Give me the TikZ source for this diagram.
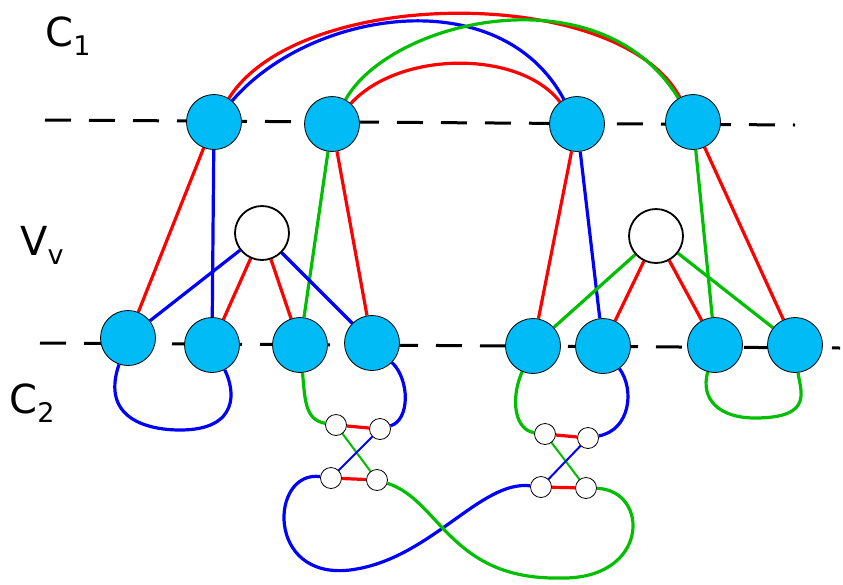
\documentclass[tikz,border=0pt]{standalone}
\usepackage{fontspec}
\setmainfont{DejaVu Sans}
\usetikzlibrary{backgrounds}
\definecolor{vcyan}{RGB}{0,187,245}
\newcommand{\sub}[1]{\raisebox{-9pt}{\fontsize{27}{30}\selectfont #1}}
\begin{document}
\begin{tikzpicture}[x=1pt,y=-1pt,
  vert/.style={circle, draw=black, thick, fill=vcyan, minimum size=55pt, inner sep=0pt},
  hole/.style={circle, draw=black, line width=1.8pt, fill=white, minimum size=54pt, inner sep=0pt},
  tiny/.style={circle, draw=black, thick, fill=white, minimum size=21pt, inner sep=0pt},
  ed/.style={line width=3.2pt},
  thin ed/.style={line width=2pt},
  lab/.style={font=\fontsize{40}{44}\selectfont}]
\useasboundingbox (0,0) rectangle (843,584);
  % labels
  \node[lab] (c1) at (68,36) {C\sub{1}};
  \node[lab] (vv) at (42,245) {V\sub{v}};
  \node[lab] (c2) at (32,403) {C\sub{2}};

  % top row
  \node[vert] (a1) at (214,122) {};
  \node[vert] (a2) at (332,124) {};
  \node[vert] (a3) at (577,124) {};
  \node[vert] (a4) at (693,122) {};
  % bottom row
  \node[vert] (b1) at (128,338) {};
  \node[vert] (b2) at (212,345) {};
  \node[vert] (b3) at (300,345) {};
  \node[vert] (b4) at (372,343) {};
  \node[vert] (b5) at (533,346) {};
  \node[vert] (b6) at (603,346) {};
  \node[vert] (b7) at (715,345) {};
  \node[vert] (b8) at (795,345) {};
  % holes
  \node[hole] (w1) at (262,233) {};
  \node[hole] (w2) at (656,236) {};
  % small gadgets
  \node[tiny] (s1) at (336,425) {};
  \node[tiny] (s2) at (380,429) {};
  \node[tiny] (s3) at (331,478) {};
  \node[tiny] (s4) at (377,480) {};
  \node[tiny] (s5) at (545,434) {};
  \node[tiny] (s6) at (588,438) {};
  \node[tiny] (s7) at (541,487) {};
  \node[tiny] (s8) at (586,488) {};

  \begin{pgfonlayer}{background}
  % dashed lines
  \draw[line width=3pt, dash pattern=on 26pt off 18pt] (45,120) -- (795,125);
  \draw[line width=3pt, dash pattern=on 26pt off 18pt] (40,343) -- (840,348);
  % arcs above
  \draw[ed, red] (a1) .. controls (300,-15) and (620,-15) .. (a4);
  \draw[ed, blue] (a1) .. controls (310,10) and (500,-20) .. (a3);
  \draw[ed, green!75!black] (a2) .. controls (390,20) and (600,-30) .. (a4);
  \draw[ed, red] (a2) .. controls (400,50) and (520,50) .. (a3);
  % spokes
  \draw[ed, red] (a1) -- (b1);
  \draw[ed, blue] (a1) -- (b2);
  \draw[ed, green!75!black] (a2) -- (b3);
  \draw[ed, red] (a2) -- (b4);
  \draw[ed, red] (a3) -- (b5);
  \draw[ed, blue] (a3) -- (b6);
  \draw[ed, green!75!black] (a4) -- (b7);
  \draw[ed, red] (a4) -- (b8);
  \draw[ed, blue] (w1) -- (b1);
  \draw[ed, red] (w1) -- (b2);
  \draw[ed, red] (w1) -- (b3);
  \draw[ed, blue] (w1) -- (b4);
  \draw[ed, green!75!black] (w2) -- (b5);
  \draw[ed, red] (w2) -- (b6);
  \draw[ed, red] (w2) -- (b7);
  \draw[ed, green!75!black] (w2) -- (b8);
  % loops
  \draw[ed, blue] (b1) .. controls (100,420) and (150,430) .. (180,430) .. controls (240,430) and (235,390) .. (b2);
  \draw[ed, green!75!black] (b7) .. controls (700,400) and (720,418) .. (755,418) .. controls (815,418) and (800,390) .. (b8);
  % gadgets
  \draw[ed, green!75!black] (b3) .. controls (305,400) and (305,420) .. (s1);
  \draw[ed, blue] (b4) .. controls (410,380) and (410,420) .. (s2);
  \draw[ed, green!75!black] (b5) .. controls (510,400) and (515,430) .. (s5);
  \draw[ed, blue] (b6) .. controls (635,390) and (630,430) .. (s6);
  \draw[ed, red] (s1) -- (s2);
  \draw[ed, red] (s3) -- (s4);
  \draw[ed, red] (s5) -- (s6);
  \draw[ed, red] (s7) -- (s8);
  \draw[thin ed, green!75!black] (s1.center) -- (s4.center);
  \draw[thin ed, blue] (s2.center) -- (s3.center);
  \draw[thin ed, green!75!black] (s5.center) -- (s8.center);
  \draw[thin ed, blue] (s6.center) -- (s7.center);
  \draw[ed, blue] (s3) .. controls (270,470) and (265,580) .. (350,570) .. controls (430,560) and (480,480) .. (s7);
  \draw[ed, green!75!black] (s4) .. controls (440,500) and (450,580) .. (560,578) .. controls (650,580) and (650,490) .. (s8);
  \end{pgfonlayer}
\end{tikzpicture}
\end{document}
